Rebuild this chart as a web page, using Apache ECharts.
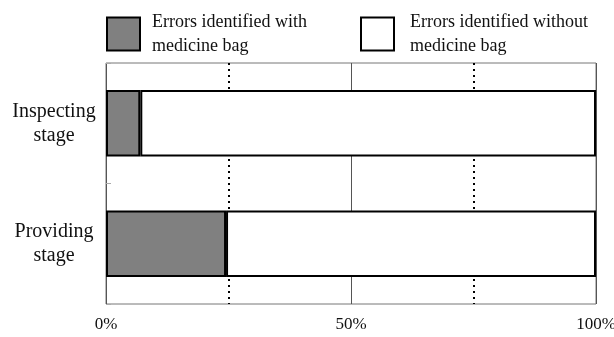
<!DOCTYPE html>
<html><head><meta charset="utf-8">
<script src="https://cdn.jsdelivr.net/npm/echarts@6/dist/echarts.min.js"></script>
<style>html,body{margin:0;padding:0;background:#fff}#c{width:614px;height:337px}</style>
</head><body><div id="c"></div>
<script>
const categories = ['Inspecting\nstage', 'Providing\nstage'];
const withBag = [7, 24.5];
const withoutBag = [93, 75.5];
const seriesNames = ['Errors identified with\nmedicine bag', 'Errors identified without\nmedicine bag'];
const tickLabels = {0: '0%', 50: '50%', 100: '100%'};

const font = '"Liberation Serif", "DejaVu Serif", serif';
const T = 'rgba(0,0,0,0)';
const chart = echarts.init(document.getElementById('c'));
chart.setOption({
  animation: false,
  backgroundColor: '#fff',
  textStyle: {fontFamily: font},
  legend: [
    {data: [seriesNames[0]], left: 106, top: 10, padding: 0, itemWidth: 33, itemHeight: 33, icon: 'rect',
     textStyle: {fontFamily: font, fontSize: 18, color: '#111', lineHeight: 24, padding: [0,0,0,7]}},
    {data: [seriesNames[1]], left: 360, top: 10, padding: 0, itemWidth: 33, itemHeight: 33, icon: 'rect',
     textStyle: {fontFamily: font, fontSize: 18, color: '#111', lineHeight: 24, padding: [0,0,0,11]}}
  ],
  grid: {left: 106, right: 18, top: 63, bottom: 33, show: true, borderColor: '#777', borderWidth: 1,
         containLabel: false, outerBoundsMode: 'none'},
  xAxis: [
    {type: 'value', min: 0, max: 100, interval: 50,
     axisLine: {show: false}, axisTick: {show: false},
     axisLabel: {margin: 12, fontFamily: font, fontSize: 17, color: '#111', formatter: v => tickLabels[v] || ''},
     splitLine: {show: true, lineStyle: {color: '#555', width: 1, type: 'solid'}}},
    {type: 'value', min: 0, max: 100, interval: 25, position: 'bottom',
     axisLine: {show: false}, axisTick: {show: false}, axisLabel: {show: false},
     splitLine: {show: true, lineStyle: {color: [T, '#000', T, '#000', T], width: 2, type: [2, 4]}}}
  ],
  yAxis: {type: 'category', data: categories, inverse: true,
    axisLine: {show: false},
    axisTick: {show: true, inside: true, length: 5, lineStyle: {color: '#aaa'}},
    axisLabel: {align: 'center', margin: 52, fontFamily: font, fontSize: 20, color: '#111', lineHeight: 24, padding: [12, 0, 0, 0]}},
  series: [
    {name: seriesNames[0], type: 'bar', stack: 's', data: withBag, barWidth: '55%', xAxisIndex: 0,
     itemStyle: {color: '#808080', borderColor: '#000', borderWidth: 2}},
    {name: seriesNames[1], type: 'bar', stack: 's', data: withoutBag, barWidth: '55%', xAxisIndex: 0,
     itemStyle: {color: '#fff', borderColor: '#000', borderWidth: 2}}
  ]
});
</script></body></html>
